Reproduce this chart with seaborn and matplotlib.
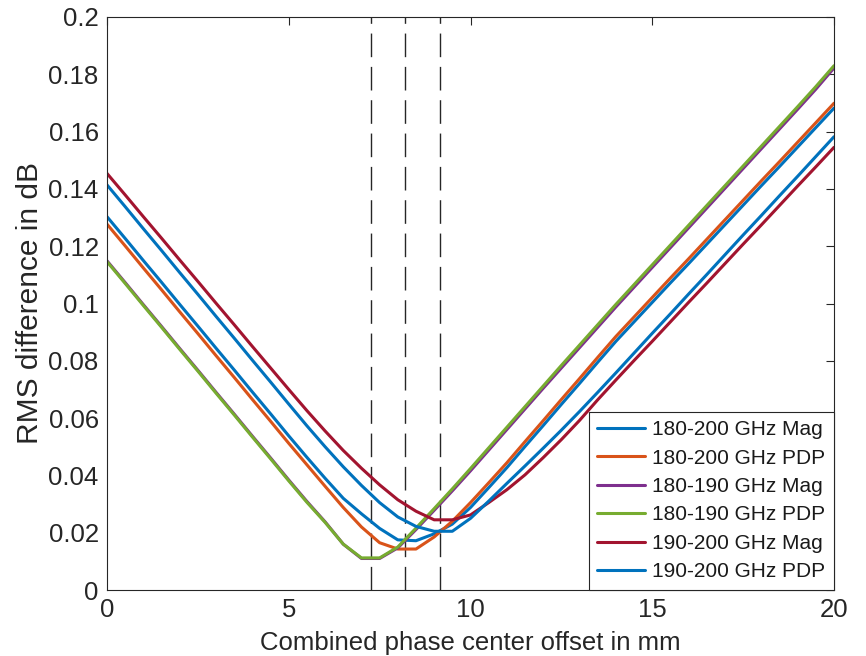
import numpy as np
import pandas as pd
import matplotlib
matplotlib.use("Agg")
import matplotlib.pyplot as plt
import seaborn as sns

offset_mm = [0, 0.5, 1, 1.5, 2, 2.5, 3, 3.5, 4, 4.5, 5, 5.5, 6, 6.5, 7, 7.5, 8, 8.5, 9, 9.5,
             10, 10.5, 11, 11.5, 12, 12.5, 13, 13.5, 14, 14.5, 15, 15.5, 16, 16.5, 17, 17.5,
             18, 18.5, 19, 19.5, 20]

mag_180_200 = [0.1303, 0.1227, 0.1150, 0.1074, 0.0997, 0.0921, 0.0844, 0.0768, 0.0691, 0.0615,
               0.0538, 0.0463, 0.0390, 0.0320, 0.0266, 0.0215, 0.0175, 0.0172, 0.0196, 0.0230,
               0.0288, 0.0357, 0.0427, 0.0501, 0.0574, 0.0648, 0.0721, 0.0795, 0.0868, 0.0936,
               0.1004, 0.1072, 0.1139, 0.1207, 0.1275, 0.1343, 0.1411, 0.1478, 0.1546, 0.1614,
               0.1682]
pdp_180_200 = [0.1277, 0.1201, 0.1124, 0.1048, 0.0971, 0.0895, 0.0818, 0.0742, 0.0665, 0.0589,
               0.0512, 0.0437, 0.0362, 0.0288, 0.0220, 0.0165, 0.0143, 0.0143, 0.0185, 0.0240,
               0.0305, 0.0374, 0.0444, 0.0518, 0.0591, 0.0665, 0.0738, 0.0812, 0.0885, 0.0953,
               0.1021, 0.1089, 0.1156, 0.1224, 0.1292, 0.1360, 0.1428, 0.1495, 0.1563, 0.1631,
               0.1699]
mag_180_190 = [0.1149, 0.1073, 0.0996, 0.0920, 0.0843, 0.0767, 0.0690, 0.0614, 0.0537, 0.0461,
               0.0384, 0.0309, 0.0238, 0.0160, 0.0110, 0.0110, 0.0147, 0.0211, 0.0278, 0.0346,
               0.0416, 0.0488, 0.0560, 0.0632, 0.0704, 0.0775, 0.0846, 0.0917, 0.0988, 0.1057,
               0.1126, 0.1195, 0.1264, 0.1333, 0.1402, 0.1471, 0.1540, 0.1609, 0.1678, 0.1748,
               0.1822]
pdp_180_190 = [0.1146, 0.1070, 0.0993, 0.0917, 0.0840, 0.0764, 0.0687, 0.0611, 0.0534, 0.0458,
               0.0381, 0.0306, 0.0236, 0.0160, 0.0112, 0.0112, 0.0150, 0.0216, 0.0284, 0.0353,
               0.0424, 0.0496, 0.0568, 0.0640, 0.0712, 0.0784, 0.0855, 0.0926, 0.0997, 0.1066,
               0.1135, 0.1204, 0.1273, 0.1342, 0.1411, 0.1480, 0.1549, 0.1618, 0.1687, 0.1757,
               0.1830]
mag_190_200 = [0.1454, 0.1379, 0.1303, 0.1228, 0.1152, 0.1077, 0.1001, 0.0926, 0.0850, 0.0775,
               0.0700, 0.0626, 0.0555, 0.0487, 0.0425, 0.0367, 0.0315, 0.0275, 0.0245, 0.0245,
               0.0262, 0.0305, 0.0350, 0.0402, 0.0462, 0.0525, 0.0592, 0.0664, 0.0733, 0.0801,
               0.0868, 0.0936, 0.1004, 0.1071, 0.1139, 0.1207, 0.1274, 0.1342, 0.1410, 0.1477,
               0.1545]
pdp_190_200 = [0.1414, 0.1338, 0.1261, 0.1185, 0.1108, 0.1032, 0.0955, 0.0879, 0.0802, 0.0726,
               0.0649, 0.0573, 0.0500, 0.0430, 0.0365, 0.0305, 0.0255, 0.0222, 0.0205, 0.0205,
               0.0250, 0.0310, 0.0372, 0.0433, 0.0495, 0.0558, 0.0623, 0.0690, 0.0758, 0.0827,
               0.0896, 0.0964, 0.1033, 0.1101, 0.1170, 0.1239, 0.1307, 0.1376, 0.1444, 0.1513,
               0.1582]

series_labels = ["180-200 GHz Mag", "180-200 GHz PDP", "180-190 GHz Mag",
                 "180-190 GHz PDP", "190-200 GHz Mag", "190-200 GHz PDP"]
series_values = [mag_180_200, pdp_180_200, mag_180_190, pdp_180_190, mag_190_200, pdp_190_200]
series_colors = ["#0072BD", "#D95319", "#7E2F8E", "#77AC30", "#A2142F", "#0072BD"]

optimum_offsets = [7.27, 8.2, 9.16]

x_ticks = [0, 5, 10, 15, 20]
y_ticks = [0, 0.02, 0.04, 0.06, 0.08, 0.1, 0.12, 0.14, 0.16, 0.18, 0.2]
y_tick_labels = ["0", "0.02", "0.04", "0.06", "0.08", "0.1", "0.12", "0.14", "0.16", "0.18", "0.2"]

sns.set_style("white")
plt.rcParams["font.family"] = ["Liberation Sans", "DejaVu Sans"]

fig = plt.figure(figsize=(8.66, 6.56), dpi=100)
ax = fig.add_axes([107 / 866, 1 - 590 / 656, (834 - 107) / 866, (590 - 17) / 656])

for xv in optimum_offsets:
    ax.axvline(xv, color="#262626", lw=1.0, ls=(0, (17, 7)), zorder=1)

for lab, vals, col in zip(series_labels, series_values, series_colors):
    df = pd.DataFrame({"offset": offset_mm, "rms": vals})
    sns.lineplot(data=df, x="offset", y="rms", color=col, lw=2.2, label=lab, ax=ax,
                 sort=False, zorder=2)

ax.set_xlim(0, 20)
ax.set_ylim(0, 0.2)
ax.set_xticks(x_ticks)
ax.set_xticklabels([str(t) for t in x_ticks])
ax.set_yticks(y_ticks)
ax.set_yticklabels(y_tick_labels)
ax.tick_params(direction="in", length=6, width=0.8, colors="#262626", labelsize=18.5,
               top=True, right=True, labelcolor="#262626", pad=6)
for s in ax.spines.values():
    s.set_visible(True)
    s.set_color("#262626")
    s.set_linewidth(0.8)

ax.set_xlabel("Combined phase center offset in mm", fontsize=18.5, color="#262626", labelpad=6.5)
ax.set_ylabel("RMS difference in dB", fontsize=21.5, color="#262626", labelpad=3)

leg = ax.legend(loc="lower right", borderaxespad=0, fontsize=15, frameon=True, fancybox=False,
                handlelength=2.3, handletextpad=0.33, labelspacing=0.45, borderpad=0.42)
leg.get_frame().set_edgecolor("#262626")
leg.get_frame().set_linewidth(0.8)
leg.get_frame().set_alpha(1)
for t in leg.get_texts():
    t.set_color("#1a1a1a")

fig.savefig("out.png", dpi=100)
